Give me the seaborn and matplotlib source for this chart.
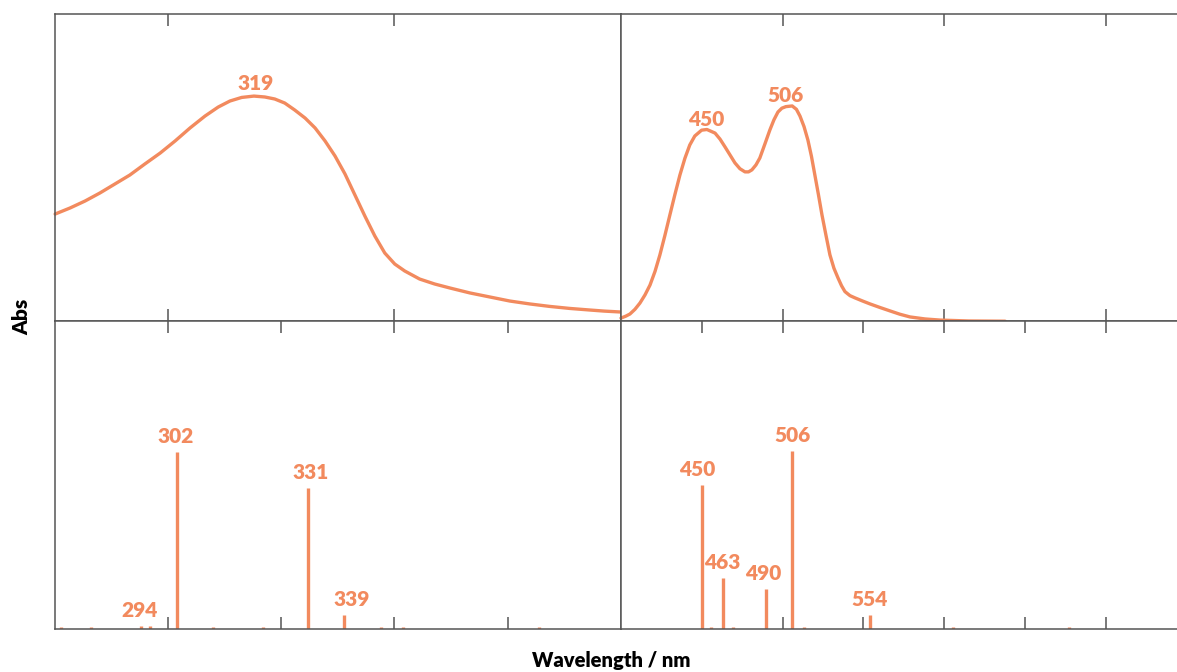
import numpy as np
import pandas as pd
import matplotlib
matplotlib.use("Agg")
import matplotlib.pyplot as plt
import seaborn as sns

# Simulated absorption spectra (top) and excitation sticks (bottom)
uv_wavelength = [275.1, 278.4, 281.7, 285.0, 288.3, 291.6, 294.9, 298.3, 301.6,
                 304.9, 308.2, 311.1, 313.7, 316.3, 319.0, 321.4, 323.6, 325.8,
                 328.0, 330.3, 332.5, 334.7, 336.9, 339.1, 341.3, 343.5, 345.7,
                 347.9, 350.1, 352.3, 355.6, 358.9, 362.3, 366.7, 371.1, 375.5,
                 379.9, 384.3, 388.7, 393.1, 396.4, 400.0]
uv_abs = [0.478, 0.505, 0.536, 0.572, 0.612, 0.652, 0.701, 0.750, 0.804, 0.862,
          0.915, 0.955, 0.982, 0.998, 1.004, 1.000, 0.991, 0.973, 0.942, 0.906,
          0.862, 0.804, 0.737, 0.657, 0.563, 0.469, 0.380, 0.304, 0.255, 0.224,
          0.188, 0.166, 0.148, 0.126, 0.108, 0.090, 0.077, 0.066, 0.057, 0.050,
          0.045, 0.041]

vis_wavelength = [400.2, 403.0, 405.7, 408.8, 411.9, 415.0, 418.1, 421.2, 424.2,
                  427.3, 430.4, 433.5, 436.6, 439.7, 442.7, 445.8, 450.0, 453.3,
                  458.3, 461.4, 464.5, 467.6, 470.6, 473.7, 476.8, 479.0, 481.1,
                  483.6, 486.0, 489.1, 492.2, 494.7, 497.2, 499.6, 502.1, 506.0,
                  508.6, 510.8, 513.3, 515.7, 517.9, 520.0, 522.2, 524.4, 526.9,
                  529.3, 531.8, 534.3, 536.5, 538.6, 541.7, 544.8, 549.5, 554.1,
                  560.3, 566.4, 572.6, 578.8, 588.1, 597.4, 615.0, 637.6]
vis_abs = [0.014, 0.022, 0.032, 0.053, 0.081, 0.117, 0.161, 0.222, 0.295, 0.382,
           0.474, 0.565, 0.652, 0.727, 0.786, 0.826, 0.852, 0.855, 0.839, 0.812,
           0.777, 0.741, 0.706, 0.680, 0.666, 0.666, 0.675, 0.697, 0.728, 0.790,
           0.853, 0.898, 0.933, 0.950, 0.957, 0.960, 0.945, 0.915, 0.868, 0.808,
           0.735, 0.652, 0.565, 0.474, 0.382, 0.296, 0.236, 0.193, 0.158, 0.132,
           0.114, 0.104, 0.090, 0.077, 0.061, 0.046, 0.031, 0.019, 0.010, 0.005,
           0.001, 0.000]

uv_peaks = [319]
vis_peaks = [450, 506]

uv_sticks = [276.5, 283, 294, 296, 302, 310, 321, 331, 339, 347, 352, 382]
uv_strength = [0.012, 0.012, 0.017, 0.017, 1.000, 0.012, 0.012, 0.796, 0.078,
               0.012, 0.012, 0.012]
uv_stick_labels = [294, 302, 331, 339]

vis_sticks = [450, 455.6, 463, 469.6, 490, 506, 513.3, 554, 605.6, 677.3]
vis_strength = [0.813, 0.012, 0.287, 0.012, 0.225, 1.006, 0.012, 0.078, 0.012, 0.012]
vis_stick_labels = [450, 463, 490, 506, 554]

color = "#F28A5E"
spine_color = "#555555"

sns.set_theme(style="white")
plt.rcParams["font.family"] = ["Lato", "DejaVu Sans"]

W, H = 1177, 672
fig = plt.figure(figsize=(W / 100, H / 100), dpi=100)

x0, xm, xr = 54.7, 620.7, 1177
y_top, y_mid, y_bot = 13.8, 321.2, 628.7


def frac_rect(xa, xb, ya, yb):
    return [xa / W, 1 - yb / H, (xb - xa) / W, (yb - ya) / H]


ax_tl = fig.add_axes(frac_rect(x0, xm, y_top, y_mid))
ax_tr = fig.add_axes(frac_rect(xm, xr, y_top, y_mid))
ax_bl = fig.add_axes(frac_rect(x0, xm, y_mid, y_bot))
ax_br = fig.add_axes(frac_rect(xm, xr, y_mid, y_bot))

px_per_nm_right = 1.618
right_max = 400 + (xr - xm) / px_per_nm_right

ax_tl.set_xlim(275, 400)
ax_bl.set_xlim(275, 400)
ax_tr.set_xlim(400, right_max)
ax_br.set_xlim(400, right_max)
ax_tl.set_ylim(0, 1.371)
ax_tr.set_ylim(0, 1.371)
ax_bl.set_ylim(0, 1.74)
ax_br.set_ylim(0, 1.74)

# Absorption curves
line_kw = dict(color=color, linewidth=2.4, sort=False, clip_on=False)
sns.lineplot(data=pd.DataFrame({"wl": uv_wavelength, "abs": uv_abs}), x="wl", y="abs",
             ax=ax_tl, **line_kw)
sns.lineplot(data=pd.DataFrame({"wl": vis_wavelength, "abs": vis_abs}), x="wl", y="abs",
             ax=ax_tr, **line_kw)
for ax in (ax_tl, ax_tr):
    for ln in ax.get_lines():
        ln.set_solid_joinstyle("round")
        ln.set_solid_capstyle("round")

label_kw = dict(color=color, fontsize=15, fontweight="heavy", ha="center",
                va="bottom", textcoords="offset points")

top_dx = {319: 1.5, 450: 3.0, 506: -4.5}
for pk in uv_peaks:
    ax_tl.annotate(str(pk), (pk, np.interp(pk, uv_wavelength, uv_abs)),
                   xytext=(top_dx[pk], 2), **label_kw)
for pk in vis_peaks:
    ax_tr.annotate(str(pk), (pk, np.interp(pk, vis_wavelength, vis_abs)),
                   xytext=(top_dx[pk], 1), **label_kw)

# Excitation sticks
ax_bl.vlines(uv_sticks, 0, uv_strength, color=color, linewidth=2.4, capstyle="butt")
ax_br.vlines(vis_sticks, 0, vis_strength, color=color, linewidth=2.4, capstyle="butt")

uv_dx = {294: -1, 302: -1, 331: 1.5, 339: 5}
vis_dx = {450: -3.5, 463: 0, 490: -2.5, 506: 0, 554: -0.5}
for lab in uv_stick_labels:
    h = uv_strength[uv_sticks.index(lab)]
    ax_bl.annotate(str(lab), (lab, h), xytext=(uv_dx[lab], 4), **label_kw)
for lab in vis_stick_labels:
    h = vis_strength[vis_sticks.index(lab)]
    ax_br.annotate(str(lab), (lab, h), xytext=(vis_dx[lab], 4), **label_kw)

# Frame and ticks
for ax in (ax_tl, ax_tr, ax_bl, ax_br):
    ax.set_xlabel("")
    ax.set_ylabel("")
    ax.set_yticks([])
    ax.set_facecolor("white")
    for sp in ax.spines.values():
        sp.set_color(spine_color)
        sp.set_linewidth(1.1)
    ax.tick_params(axis="x", which="both", direction="in", top=True, bottom=True,
                   length=8.6, width=1.1, color=spine_color,
                   labelbottom=False, labeltop=False)

for ax in (ax_tr, ax_br):
    ax.spines["right"].set_visible(False)

ax_tl.set_xticks([300, 350])
ax_bl.set_xticks([300, 325, 350, 375])
ax_tr.set_xticks([500, 600, 700])
ax_br.set_xticks([450, 500, 550, 600, 650, 700])

fig.text(22 / W, 1 - 317 / H, "Abs", rotation=90, ha="center", va="center",
         fontsize=15, fontweight="heavy", color="black")
fig.text(611 / W, 1 - 660 / H, "Wavelength / nm", ha="center", va="center",
         fontsize=14.5, fontweight="heavy", color="black")

fig.savefig("out.png", dpi=100, facecolor="white")
